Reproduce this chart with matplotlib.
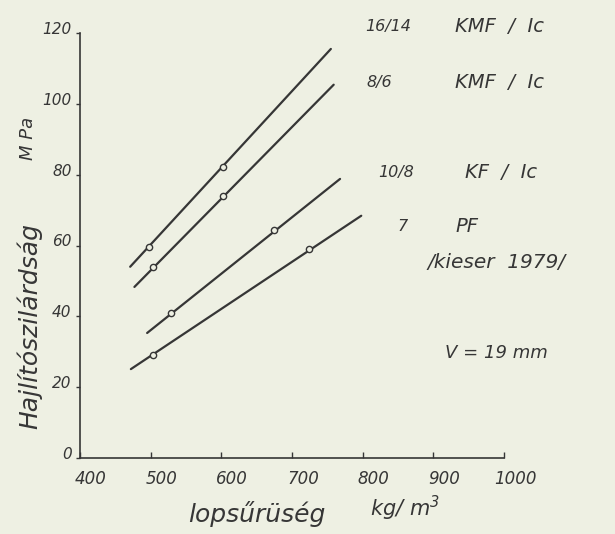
import matplotlib
matplotlib.use("Agg")
import matplotlib.pyplot as plt
import matplotlib.transforms as mtransforms

# bending strength vs. board density (scanned handwritten chart)
x_ticks = [400, 500, 600, 700, 800, 900, 1000]
y_ticks = [0, 20, 40, 60, 80, 100, 120]

series_names = ["16/14", "8/6", "10/8", "7"]
series_types = ["KMF  /  Ic", "KMF  /  Ic", "KF  /  Ic", "PF"]

line_x = [[471, 755], [477, 759], [495, 768], [472, 798]]
line_y = [[54, 115.5], [48.3, 105.4], [35.3, 78.8], [25.1, 68.4]]

point_x = [[497, 602], [504, 603], [529, 674], [504, 724]]
point_y = [[59.5, 82.3], [53.8, 73.9], [41, 64.5], [29, 59]]

# label anchor per series (data units, to the right of the plot)
label_num_x = [803, 806, 822, 849]
label_type_x = [931, 931, 945, 931]
label_y = [121.7, 105.9, 80.7, 65.3]

bg = "#eef0e3"
ink = "#363636"

plt.rcParams["font.family"] = ["DejaVu Sans"]
plt.rcParams["font.style"] = "italic"

fig = plt.figure(figsize=(6.15, 5.34), dpi=100, facecolor=bg)
ax = fig.add_axes([80 / 615, 76 / 534, 424 / 615, 425 / 534])
ax.set_facecolor(bg)

for lx, ly, px, py in zip(line_x, line_y, point_x, point_y):
    ax.plot(lx, ly, color=ink, lw=1.6, solid_capstyle="round", clip_on=False)
    ax.plot(px, py, "o", ms=4.5, mfc=bg, mec=ink, mew=1.0, clip_on=False)

ax.set_xlim(400, 1000)
ax.set_ylim(0, 120)
for s in ["top", "right"]:
    ax.spines[s].set_visible(False)
for s in ["left", "bottom"]:
    ax.spines[s].set_color(ink)
    ax.spines[s].set_linewidth(1.2)

ax.set_xticks(x_ticks)
ax.set_xticklabels([str(v) for v in x_ticks], fontsize=12, color=ink)
ax.set_yticks(y_ticks)
ax.set_yticklabels([str(v) for v in y_ticks], fontsize=11, color=ink)
ax.tick_params(axis="x", direction="in", length=4, width=1, color=ink, pad=9)
ax.tick_params(axis="y", direction="out", length=3, width=1, color=ink, pad=3)

dx = mtransforms.ScaledTranslation(0.11, 0, fig.dpi_scale_trans)
for lab in ax.get_xticklabels():
    lab.set_transform(lab.get_transform() + dx)
dy = mtransforms.ScaledTranslation(0, 0.05, fig.dpi_scale_trans)
for lab in ax.get_yticklabels():
    lab.set_transform(lab.get_transform() + dy)

# series labels
for name, typ, nx, tx, yy in zip(series_names, series_types, label_num_x, label_type_x, label_y):
    ax.text(nx, yy, name, fontsize=11.5, color=ink, va="center", ha="left", clip_on=False)
    ax.text(tx, yy, typ, fontsize=14, color=ink, va="center", ha="left", clip_on=False)
ax.text(892, 55.3, "/kieser  1979/", fontsize=14.5, color=ink, va="center", ha="left", clip_on=False)
ax.text(916, 29.6, "V = 19 mm", fontsize=13, color=ink, va="center", ha="left", clip_on=False)

# axis titles
fig.text(257 / 615, 1 - 514 / 534, "lopsűrüség", fontsize=18, color=ink, ha="center", va="center")
fig.text(405 / 615, 1 - 508 / 534, "kg/ m$^3$", fontsize=15, color=ink, ha="center", va="center")
fig.text(30 / 615, 1 - 326 / 534, "Hajlítószilárdság", fontsize=18, color=ink, ha="center", va="center",
         rotation=90)
fig.text(28 / 615, 1 - 138 / 534, "M Pa", fontsize=13, color=ink, ha="center", va="center", rotation=90)

fig.savefig("out.png", dpi=100, facecolor=bg)
